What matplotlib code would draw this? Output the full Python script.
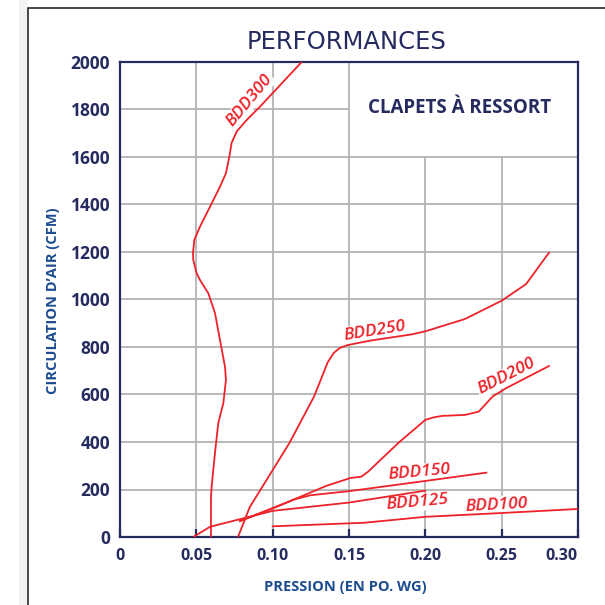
# Courbes de performance des clapets à ressort (BDD100 à BDD300)
import matplotlib
matplotlib.use('Agg')
import matplotlib.pyplot as plt
from matplotlib.patches import Rectangle

NAVY = '#252b5f'
BLUE = '#1d4c8f'
RED = '#ee2229'
GRID = '#b4b4b4'

# valeurs (pression en po. WG, débit en CFM)
bdd300_x = [0.0596, 0.0596, 0.0600, 0.0622, 0.0644, 0.0677, 0.0694, 0.0688, 0.0655, 0.0622,
            0.0578, 0.0524, 0.0502, 0.0480, 0.0478, 0.0487, 0.0524, 0.0590, 0.0655, 0.0694,
            0.0716, 0.0731, 0.0764, 0.0830, 0.0917, 0.1190]
bdd300_y = [0, 168, 211, 354, 480, 564, 661, 716, 829, 943,
            1027, 1082, 1111, 1166, 1196, 1251, 1307, 1391, 1475, 1532,
            1601, 1659, 1707, 1756, 1812, 2000]

bdd250_x = [0.0773, 0.085, 0.096, 0.111, 0.127, 0.132, 0.136, 0.140, 0.144, 0.149, 0.164,
            0.191, 0.2005, 0.226, 0.250, 0.266, 0.281]
bdd250_y = [0, 126, 240, 396, 590, 670, 735, 775, 796, 808, 827,
            853, 867, 918, 995, 1065, 1197]

bdd200_x = [0.0786, 0.100, 0.111, 0.121, 0.135, 0.1507, 0.158, 0.1625, 0.183, 0.200,
            0.205, 0.211, 0.226, 0.235, 0.244, 0.253, 0.281]
bdd200_y = [67, 122, 150, 177, 215, 248, 254, 275, 400, 493,
            503, 510, 514, 528, 591, 627, 720]

bdd150_x = [0.0786, 0.100, 0.114, 0.125, 0.150, 0.200, 0.240]
bdd150_y = [67, 120, 158, 176, 193, 236, 271]

bdd125_x = [0.0485, 0.059, 0.100, 0.150, 0.200]
bdd125_y = [2, 43, 110, 145, 195]

bdd100_x = [0.100, 0.160, 0.200, 0.250, 0.300]
bdd100_y = [45, 60, 85, 101, 118]

curves = [(bdd300_x, bdd300_y), (bdd250_x, bdd250_y), (bdd200_x, bdd200_y),
          (bdd150_x, bdd150_y), (bdd125_x, bdd125_y), (bdd100_x, bdd100_y)]

# étiquettes: nom, x, y, rotation
labels = [('BDD300', 0.0850, 1840, 50), ('BDD250', 0.167, 867, 9),
          ('BDD200', 0.253, 675, 27), ('BDD150', 0.196, 271, 5),
          ('BDD125', 0.1946, 145, 5), ('BDD100', 0.2464, 135, 3)]

xticks = [0, 0.05, 0.10, 0.15, 0.20, 0.25, 0.30]
xtick_labels = ['0', '0.05', '0.10', '0.15', '0.20', '0.25', '0.30']
yticks = list(range(0, 2001, 200))

fig = plt.figure(figsize=(6.05, 6.05), dpi=100)

# cadre extérieur
fig.patches.append(Rectangle((19 / 605, -0.1), 9 / 605, 1.2, transform=fig.transFigure,
                             facecolor='#f3f3f3', edgecolor='none', zorder=-2))
fig.patches.append(Rectangle((28 / 605, -0.1), 1.2, 1.1 - 7.5 / 605, transform=fig.transFigure,
                             facecolor='white', edgecolor='#2a2a2a', lw=1.2, zorder=-1))

ax = fig.add_axes([120 / 605, 1 - 537 / 605, 458 / 605, 475 / 605])
ax.set_xlim(0, 0.30)
ax.set_ylim(0, 2000)
ax.set_axisbelow(True)
ax.grid(True, color=GRID, lw=1.3)

for s in ax.spines.values():
    s.set_color(NAVY)
    s.set_linewidth(1.6)

ax.set_xticks(xticks)
ax.set_xticklabels(xtick_labels)
ax.set_yticks(yticks)
ax.tick_params(axis='x', direction='in', length=6, width=1.6, color=NAVY, pad=8,
               labelsize=11.5, labelcolor=NAVY)
ax.tick_params(axis='y', length=0, pad=7, labelsize=12.5, labelcolor=NAVY)
for t in ax.get_xticklabels() + ax.get_yticklabels():
    t.set_fontfamily('Open Sans')
    t.set_fontweight('bold')
ax.get_xticklabels()[-1].set_horizontalalignment('right')

# zone blanche du titre intérieur
ax.add_patch(Rectangle((0.1507, 1606), 0.1489, 390, facecolor='white', edgecolor='none', zorder=1))
ax.text(0.2227, 1806, 'CLAPETS À RESSORT', ha='center', va='center', color=NAVY,
        fontsize=13.5, fontweight='bold', family='Open Sans', zorder=4)

for cx, cy in curves:
    ax.plot(cx, cy, color=RED, lw=1.3, zorder=3, solid_joinstyle='round')

for name, lx, ly, rot in labels:
    ax.text(lx, ly, name, rotation=rot, rotation_mode='anchor', ha='center', va='center',
            color=RED, fontsize=12.5, style='italic', fontweight=600, family='Open Sans',
            zorder=2, bbox=dict(facecolor='white', edgecolor='none', pad=0.5))

ax.set_xlabel('PRESSION (EN PO. WG)', color=BLUE, fontsize=10.5, fontweight='bold',
              family='Open Sans')
ax.xaxis.set_label_coords(0.493, -0.0905)
ax.set_ylabel("CIRCULATION D’AIR (CFM)", color=BLUE, fontsize=10.5, fontweight='bold',
              family='Open Sans')
ax.yaxis.set_label_coords(-0.131, 0.497)

fig.text(0.573, 1 - 42 / 605, 'PERFORMANCES', ha='center', va='center', color=NAVY,
         fontsize=17.5, family='DejaVu Sans')

fig.savefig('out.png', dpi=100)
